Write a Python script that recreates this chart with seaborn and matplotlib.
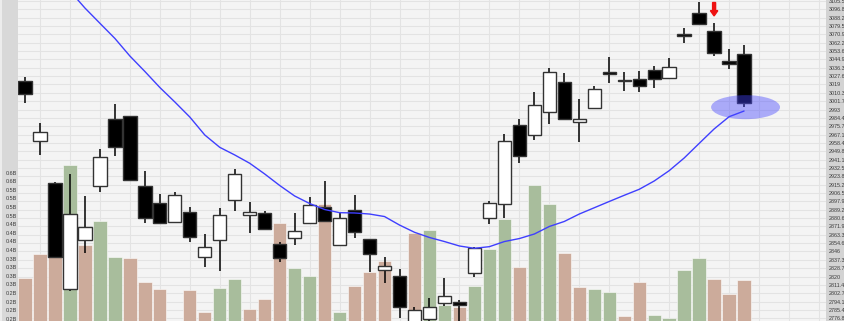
import numpy as np
import pandas as pd
import matplotlib
matplotlib.use("Agg")
import matplotlib.pyplot as plt
from matplotlib.patches import Ellipse, Rectangle
import seaborn as sns

# ---------------- data ----------------
opens  = [3022.9, 2960.5, 2917.3, 2806.8, 2857.9, 2913.8, 2983.6, 2986.4, 2914.2, 2896.5,
          2876.5, 2887.2, 2840.0, 2857.6, 2899.3, 2883.5, 2885.6, 2853.4, 2859.7, 2875.2,
          2891.8, 2852.7, 2888.7, 2858.6, 2826.8, 2820.9, 2770.9, 2775.7, 2792.3, 2794.0,
          2824.0, 2880.4, 2894.9, 2977.0, 2966.7, 2990.2, 3021.3, 2979.8, 2994.3, 3032.3,
          3023.7, 3024.4, 3034.0, 3025.4, 3071.3, 3092.8, 3074.7, 3043.3, 3050.6]
highs  = [3027.1, 2978.8, 2918.0, 2926.0, 2903.8, 2951.9, 2998.8, 2986.4, 2929.4, 2905.2,
          2907.6, 2892.1, 2863.8, 2891.1, 2931.1, 2897.0, 2887.9, 2855.8, 2885.6, 2902.8,
          2919.0, 2885.6, 2904.2, 2858.6, 2840.3, 2827.9, 2788.8, 2797.8, 2818.2, 2795.7,
          2851.0, 2898.3, 2967.4, 2982.9, 3010.9, 3035.8, 3031.2, 3003.7, 3017.4, 3047.8,
          3031.6, 3033.0, 3038.5, 3046.1, 3077.2, 3104.8, 3082.4, 3055.8, 3059.9]
lows   = [2999.5, 2946.0, 2840.6, 2805.4, 2844.7, 2907.3, 2945.2, 2920.1, 2875.8, 2875.2,
          2876.5, 2856.1, 2829.6, 2826.1, 2888.2, 2865.5, 2869.0, 2834.8, 2852.7, 2875.2,
          2877.6, 2852.0, 2859.7, 2824.4, 2813.7, 2777.4, 2768.8, 2771.9, 2789.5, 2771.9,
          2819.3, 2874.2, 2880.4, 2937.4, 2961.5, 2978.1, 2983.3, 2959.1, 2993.3, 3020.2,
          3012.6, 3010.9, 3015.1, 3024.4, 3061.7, 3080.6, 3048.8, 3034.7, 2996.0]
closes = [3008.8, 2970.1, 2840.6, 2884.5, 2871.1, 2944.2, 2953.9, 2920.1, 2880.4, 2875.2,
          2904.8, 2861.3, 2850.3, 2883.8, 2926.6, 2886.6, 2869.0, 2838.9, 2867.2, 2894.2,
          2877.6, 2880.4, 2865.9, 2843.1, 2831.0, 2788.8, 2785.1, 2788.8, 2799.6, 2790.6,
          2849.3, 2895.9, 2960.8, 2944.9, 2997.8, 3031.6, 2983.3, 2983.3, 3014.3, 3029.9,
          3022.3, 3017.8, 3024.7, 3037.4, 3069.2, 3081.7, 3051.3, 3040.2, 2999.5]
volume_b = [0.280, 0.351, 0.343, 0.610, 0.377, 0.446, 0.341, 0.338, 0.270, 0.250,
            0.150, 0.246, 0.183, 0.252, 0.277, 0.190, 0.221, 0.440, 0.309, 0.287,
            0.496, 0.181, 0.259, 0.299, 0.330, 0.150, 0.411, 0.421, 0.202, 0.197,
            0.259, 0.365, 0.453, 0.312, 0.552, 0.496, 0.353, 0.255, 0.249, 0.239,
            0.170, 0.268, 0.173, 0.164, 0.304, 0.339, 0.278, 0.235, 0.275]
volume_kind = ["dn", "dn", "dn", "up", "dn", "up", "up", "dn", "dn", "dn",
               "dn", "dn", "dn", "up", "up", "dn", "dn", "dn", "up", "up",
               "dn", "up", "dn", "dn", "dn", "dn", "dn", "up", "up", "dn",
               "up", "up", "up", "dn", "up", "up", "dn", "dn", "up", "up",
               "dn", "dn", "up", "up", "up", "up", "dn", "dn", "dn"]
ma_start = 3
ma_values = [3115.9, 3098.2, 3082.4, 3066.7, 3048.5, 3032.5, 3015.9, 3000.9, 2985.3, 2966.7,
             2953.9, 2946.0, 2937.4, 2926.3, 2914.4, 2903.5, 2895.7, 2889.5, 2886.2, 2885.9,
             2884.8, 2882.2, 2873.4, 2865.9, 2860.5, 2856.3, 2851.7, 2849.3, 2851.0, 2856.3,
             2859.4, 2864.1, 2871.9, 2877.1, 2884.8, 2891.3, 2897.8, 2904.2, 2910.4, 2919.0,
             2929.7, 2942.8, 2957.9, 2972.9, 2985.6, 2991.5]
price_tick_labels = ["3105.5", "3096.8", "3088.2", "3079.5", "3070.9", "3062.2", "3053.6",
                     "3044.9", "3036.3", "3027.6", "3019", "3010.3", "3001.7", "2993",
                     "2984.4", "2975.7", "2967.1", "2958.4", "2949.8", "2941.1", "2932.5",
                     "2923.8", "2915.2", "2906.5", "2897.9", "2889.2", "2880.6", "2871.9",
                     "2863.3", "2854.6", "2846", "2837.3", "2828.7", "2820", "2811.4",
                     "2802.7", "2794.1", "2785.4", "2776.8"]
vol_tick_values = [0.5875, 0.5625, 0.5375, 0.5125, 0.4875, 0.4625, 0.4375, 0.4125, 0.3875,
                   0.3625, 0.3375, 0.3125, 0.2875, 0.2625, 0.2375, 0.2125, 0.1875, 0.1625]
vol_tick_labels = ["0.6B", "0.6B", "0.5B", "0.5B", "0.5B", "0.5B", "0.4B", "0.4B", "0.4B",
                   "0.4B", "0.3B", "0.3B", "0.3B", "0.3B", "0.2B", "0.2B", "0.2B", "0.2B"]
signal_index = 46

# ---------------- style ----------------
sns.set_theme(style="white")
plt.rcParams["font.family"] = ["Liberation Sans", "DejaVu Sans"]

W, H = 845, 321
fig = plt.figure(figsize=(W / 100, H / 100), dpi=100, facecolor="#d8d8d8")
fig.patches.append(Rectangle((0, 0), 2 / W, 1, transform=fig.transFigure,
                             facecolor="#ececec", edgecolor="none", zorder=0))
fig.patches.append(Rectangle((826 / W, 0), 19 / W, 1, transform=fig.transFigure,
                             facecolor="#d3d3d3", edgecolor="none", zorder=0))

rect = [18 / W, 0, 808 / W, 1]
n = len(opens)
xs = np.arange(n)
xlim = (-0.467, 53.47)
price_ticks = [float(s) for s in price_tick_labels]
plim = (2774.0, 3106.5)
vlim = (0.1558, 1.090)

ax_bg = fig.add_axes(rect, zorder=0)
ax_vol = fig.add_axes(rect, zorder=1)
ax_px = fig.add_axes(rect, zorder=2)

# background grid
ax_bg.set_facecolor("#f4f4f4")
ax_bg.set_xlim(xlim)
ax_bg.set_ylim(plim)
ax_bg.set_yticks(price_ticks)
ax_bg.set_xticks(np.arange(1, 54, 2))
ax_bg.grid(True, color="#e3e3e3", linewidth=0.75)
ax_bg.tick_params(left=False, bottom=False, labelleft=False, labelbottom=False)
for s in ax_bg.spines.values():
    s.set_visible(False)

# volume bars
vol_df = pd.DataFrame({"x": xs, "vol": volume_b, "kind": volume_kind})
sns.barplot(data=vol_df, x="x", y="vol", hue="kind",
            palette={"up": "#a6c297", "dn": "#d4a893"},
            native_scale=True, dodge=False, width=0.89, errorbar=None,
            legend=False, edgecolor=(1, 1, 1, 0.55), linewidth=0.7, ax=ax_vol)
ax_vol.set_facecolor("none")
ax_vol.set_xlim(xlim)
ax_vol.set_ylim(vlim)
ax_vol.set_xticks([])
ax_vol.set_yticks(vol_tick_values)
ax_vol.set_yticklabels(vol_tick_labels)
ax_vol.set_xlabel("")
ax_vol.set_ylabel("")
ax_vol.tick_params(axis="y", length=0, pad=0.8, labelsize=3.9, labelcolor="#3a3a3a")
for s in ax_vol.spines.values():
    s.set_visible(False)

# candles
o = np.array(opens); c = np.array(closes)
up = c >= o
ax_px.vlines(xs, lows, highs, color="black", linewidth=1.1, zorder=2)
ax_px.bar(xs, np.abs(c - o), bottom=np.minimum(o, c), width=0.89,
          color=np.where(up, "white", "black"), edgecolor="#333333",
          linewidth=1.0, zorder=3)

# moving average
ma_df = pd.DataFrame({"x": xs[ma_start:], "ma": ma_values})
sns.lineplot(data=ma_df, x="x", y="ma", color="#3f3fff", linewidth=1.0, ax=ax_px, zorder=4)

# signal arrow above the sell candle
ax_px.arrow(signal_index, highs[signal_index] + 21.5, 0, -13.9, width=0.2,
            head_width=0.5, head_length=5.5, length_includes_head=True,
            color="#ee1111", zorder=5)

# highlight ellipse at the last candle
ax_px.add_patch(Ellipse((n - 1 + 0.1, (closes[-1] + ma_values[-1]) / 2), 4.6, 24.9,
                        facecolor="#4444ff", alpha=0.42, edgecolor="none", zorder=6))

ax_px.set_facecolor("none")
ax_px.set_xlim(xlim)
ax_px.set_ylim(plim)
ax_px.set_xticks([])
ax_px.set_xlabel("")
ax_px.set_ylabel("")
ax_px.yaxis.tick_right()
ax_px.set_yticks(price_ticks)
ax_px.set_yticklabels(price_tick_labels)
ax_px.tick_params(axis="y", length=0, pad=2.2, labelsize=3.9, labelcolor="#3a3a3a")
for s in ax_px.spines.values():
    s.set_visible(False)

fig.savefig("out.png", dpi=100, facecolor=fig.get_facecolor())
